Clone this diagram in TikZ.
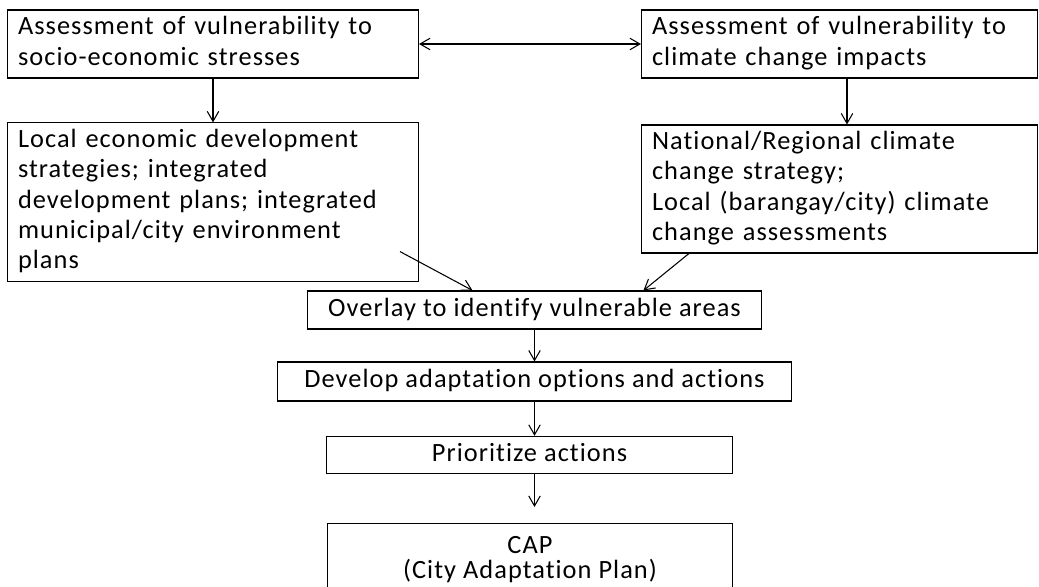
\documentclass[tikz,border=0pt]{standalone}
\usepackage{fontspec}
\setmainfont{Carlito}[LetterSpace=4, Ligatures=NoCommon]
\usetikzlibrary{arrows.meta,positioning,calc}
\tikzset{
  stage/.style={draw=black, line width=0.6pt, fill=white, align=left,
    inner xsep=6pt, inner ysep=2pt, font=\fontsize{15}{17.2}\selectfont,
    execute at begin node=\strut, execute at end node=\strut},
  single/.style={stage, align=center},
  flow/.style={-{Straight Barb[length=2mm,width=2.3mm]}, line width=0.6pt},
  both/.style={{Straight Barb[length=2mm,width=2.3mm]}-{Straight Barb[length=2mm,width=2.3mm]}, line width=0.6pt}
}

\begin{document}
\begin{tikzpicture}[x=0.02cm, y=-0.02cm]
  \useasboundingbox (0,0) rectangle (1039,587);
  \clip (0,0) rectangle (1039,587);

  \node[stage, minimum width=8.12cm, minimum height=1.36cm, text width=7.8cm] (socio) at (213,44)
    {Assessment of vulnerability to\\socio-economic stresses};
  \node[stage, minimum width=7.82cm, minimum height=1.36cm, text width=7.5cm] (climate) at (839.5,44)
    {Assessment of vulnerability to\\climate change impacts};
  \node[stage, minimum width=8.12cm, minimum height=3.12cm, text width=7.8cm] (local) at (213,202)
    {Local economic development\\strategies; integrated\\development plans; integrated\\municipal/city environment\\plans};
  \node[stage, minimum width=7.82cm, minimum height=2.56cm, text width=7.5cm] (national) at (839.5,189)
    {National/Regional climate\\change strategy;\\Local (barangay/city) climate\\change assessments};
  \node[single, minimum width=9.1cm, minimum height=0.76cm] (overlay) at (534.5,310)
    {Overlay to identify vulnerable areas};
  \node[single, minimum width=10.3cm, minimum height=0.78cm] (develop) at (534.5,381.5)
    {Develop adaptation options and actions};
  \node[single, minimum width=8.14cm, minimum height=0.68cm] (prioritize) at (529.5,455)
    {Prioritize actions};
  \node[single, font=\fontsize{15}{14.2}\selectfont, minimum width=8.12cm, inner ysep=7.5pt, anchor=north] (cap) at (530,523)
    {CAP\\(City Adaptation Plan)};

  \draw[both] (socio.east) -- (climate.west);
  \draw[flow] (socio.south) -- (local.north);
  \draw[flow] ([xshift=0.15cm]climate.south) -- ([xshift=0.15cm]national.north);
  \draw[flow] ($(local.south east)+(-19,-30)$) -- ($(overlay.north west)+(166,0)$);
  \draw[flow] ($(national.south west)+(48,0)$) -- ($(overlay.north east)+(-119,0)$);
  \draw[flow] (overlay.south) -- (develop.north);
  \draw[flow] (develop.south) -- (develop.south |- prioritize.north);
  \draw[flow, shorten >=0.32cm] (develop.south |- prioritize.south) -- (develop.south |- cap.north);
\end{tikzpicture}
\end{document}
